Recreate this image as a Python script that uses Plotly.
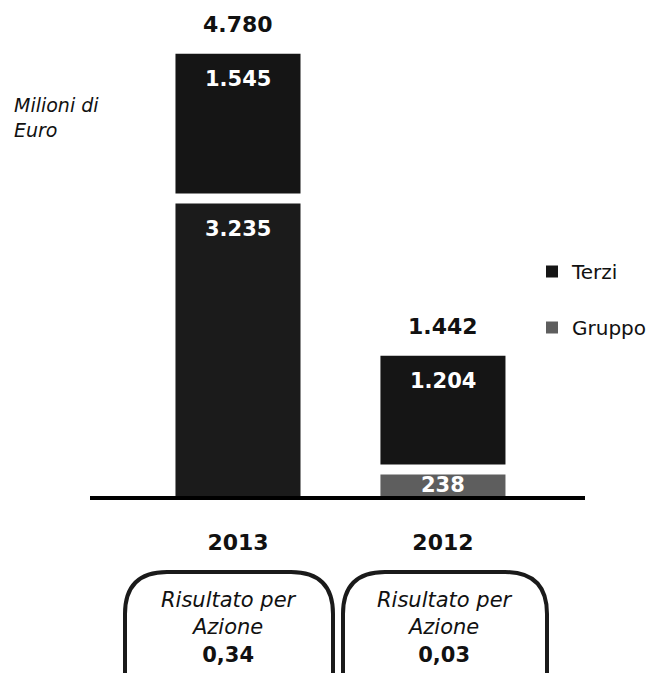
import plotly.graph_objects as go

# values (Milioni di Euro)
anni = ['2013', '2012']
gruppo = [3235, 238]
terzi = [1545, 1204]
risultato_azione = ['0,34', '0,03']

colore_terzi = '#151515'
colori_gruppo = ['#1b1b1b', '#5e5e5e']
FONT = 'DejaVu Sans'

W, H = 665, 673
OFF = 8                              # page body margin
L, R, T, B = 90 - OFF, 88, 20 - OFF, 185
YMAX = 5265
SCALE = (H - T - B) / YMAX          # px per unit
GAP = 10 / SCALE                    # white gap between the two segments


def fmt(v):
    return f'{v:,}'.replace(',', '.')


def px_x(px):
    return (px - OFF - L) / (W - L - R)


def px_y(py):
    return (H - B - (py - OFF)) / (H - T - B)


base_terzi = [g + GAP for g in gruppo]
top_terzi = [b + t for b, t in zip(base_terzi, terzi)]

# points go in reversed order so the Gruppo legend swatch picks up the grey bar
rev = slice(None, None, -1)

fig = go.Figure()
fig.add_trace(go.Bar(
    x=anni[rev], y=gruppo[rev], name='Gruppo', legendrank=2, legendgroup='g',
    marker=dict(color=colori_gruppo[rev], line=dict(width=0)), width=0.61,
))
fig.add_trace(go.Bar(
    x=anni[rev], y=terzi[rev], base=base_terzi[rev], name='Terzi', legendrank=1,
    legendgroup='t', marker=dict(color=colore_terzi, line=dict(width=0)), width=0.61,
))

# value labels inside the segments, a bit below each top
lab_off = 25 / SCALE
for i, anno in enumerate(anni):
    segs = [(0, gruppo[i]), (base_terzi[i], terzi[i])]
    for b, h in segs:
        y = max(b + h / 2, b + h - lab_off)
        fig.add_annotation(x=i, y=y, text=f'<b>{fmt(h)}</b>', showarrow=False,
                           yanchor='middle',
                           font=dict(family=FONT, size=21, color='white'))
    # total above the stack
    fig.add_annotation(x=i, y=top_terzi[i], text=f'<b>{fmt(gruppo[i] + terzi[i])}</b>',
                       showarrow=False, yanchor='bottom', yshift=15,
                       font=dict(family=FONT, size=22, color='#111'))

fig.add_annotation(xref='paper', yref='paper', x=px_x(12), y=px_y(117),
                   xanchor='left', yanchor='middle', align='left', showarrow=False,
                   text='<i>Milioni di<br>Euro</i>',
                   font=dict(family=FONT, size=19, color='#111'))

# rounded boxes with earnings per share
boxes = [(125, 333), (343, 547)]
top, bottom, rad = 572, 700, 42
for (x0, x1), eps in zip(boxes, risultato_azione):
    path = (f'M {px_x(x0 + rad)},{px_y(top)} L {px_x(x1 - rad)},{px_y(top)} '
            f'Q {px_x(x1)},{px_y(top)} {px_x(x1)},{px_y(top + rad)} '
            f'L {px_x(x1)},{px_y(bottom)} L {px_x(x0)},{px_y(bottom)} '
            f'L {px_x(x0)},{px_y(top + rad)} '
            f'Q {px_x(x0)},{px_y(top)} {px_x(x0 + rad)},{px_y(top)} Z')
    fig.add_shape(type='path', xref='paper', yref='paper', path=path,
                  line=dict(color='#1a1a1a', width=4))
    fig.add_annotation(xref='paper', yref='paper', x=px_x((x0 + x1) / 2), y=px_y(627),
                       xanchor='center', yanchor='middle', showarrow=False,
                       text=f'<i>Risultato per<br>Azione</i><br><b>{eps}</b>',
                       font=dict(family=FONT, size=21, color='#111'))

fig.update_layout(
    width=W, height=H,
    margin=dict(l=L, r=R, t=T, b=B, autoexpand=False),
    barmode='overlay',
    plot_bgcolor='white', paper_bgcolor='white',
    showlegend=True,
    legend=dict(xref='container', yref='container', x=(532 - OFF) / W,
                y=(H - (252 - OFF)) / H, xanchor='left', yanchor='top',
                traceorder='grouped', tracegroupgap=27,
                font=dict(family=FONT, size=20, color='#111'),
                bgcolor='rgba(0,0,0,0)'),
    xaxis=dict(type='category', categoryorder='array', categoryarray=anni,
               range=[-0.722, 1.693], showline=True, linecolor='black', linewidth=4,
               ticks='', ticklabelstandoff=24, showgrid=False,
               tickfont=dict(family=FONT, size=22, color='#111', weight='bold')),
    yaxis=dict(range=[0, YMAX], visible=False),
)

fig.write_html('out.html')
